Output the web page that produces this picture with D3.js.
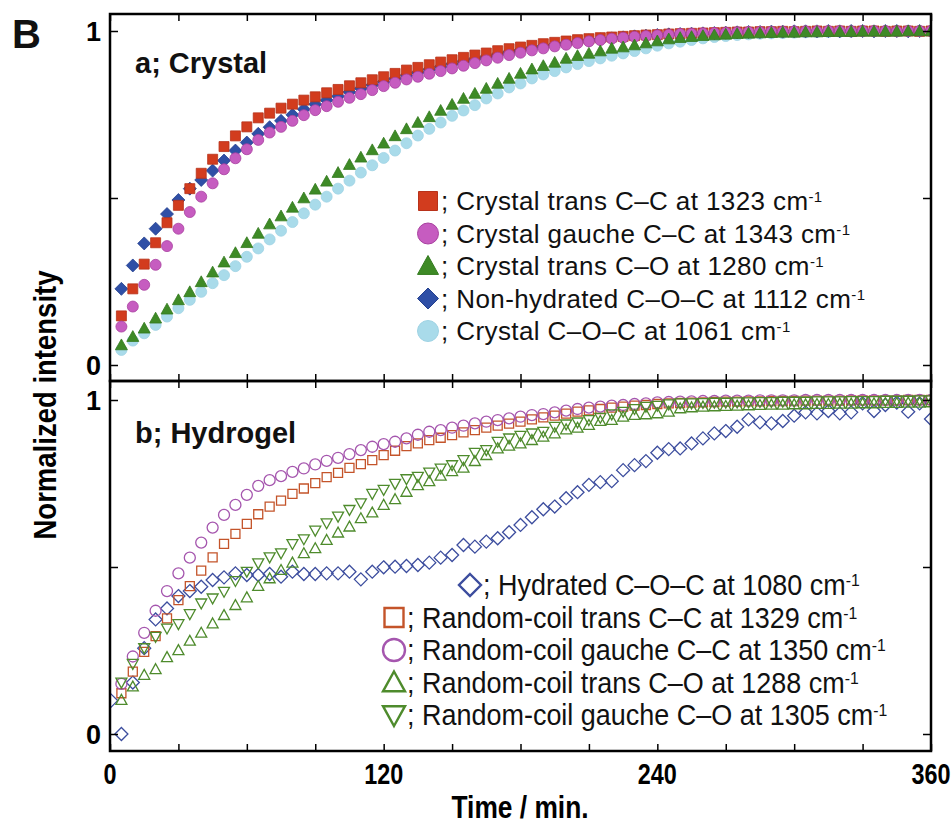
<html>
<head>
<style>
  body { margin: 0; background: #fff; }
  svg text { font-family: "Liberation Sans", Arial, sans-serif; }
</style>
</head>
<body>
<svg id="chart" width="952" height="824"></svg>
<script src="https://d3js.org/d3.v7.min.js"></script>
<script>
// sampling times (min), every 5 min
const times = d3.range(5, 365, 5)

// a; Crystal
const crystalTransCC = [0.147,0.228,0.302,0.366,0.426,0.478,0.528,0.574,0.616,0.654,0.686,0.713,0.740,0.754,0.769,0.781,0.793,0.803,0.815,0.825,0.836,0.845,0.854,0.863,0.873,0.883,0.891,0.899,0.907,0.914,0.921,0.928,0.934,0.941,0.947,0.952,0.957,0.962,0.966,0.970,0.974,0.977,0.980,0.982,0.984,0.986,0.988,0.989,0.991,0.992,0.993,0.994,0.995,0.996,0.997,0.997,0.998,0.998,0.999,0.998,0.999,1.0,0.999,1.0,0.999,1.0,1.0,0.999,1.0,1.0,0.999,1.0]
const crystalGaucheCC = [0.115,0.175,0.240,0.300,0.356,0.408,0.458,0.504,0.544,0.586,0.619,0.646,0.674,0.696,0.713,0.731,0.748,0.763,0.775,0.788,0.800,0.811,0.823,0.835,0.845,0.855,0.863,0.872,0.880,0.888,0.896,0.904,0.912,0.920,0.928,0.935,0.942,0.948,0.954,0.959,0.964,0.969,0.973,0.977,0.980,0.983,0.985,0.987,0.989,0.991,0.992,0.993,0.994,0.995,0.996,0.997,0.997,0.998,0.998,0.999,0.999,0.999,1.0,1.0,0.999,1.0,1.0,1.0,0.999,1.0,1.0,1.0]
const crystalTransCO = [0.060,0.085,0.110,0.140,0.167,0.195,0.219,0.249,0.278,0.308,0.336,0.366,0.394,0.422,0.446,0.472,0.500,0.526,0.550,0.576,0.600,0.622,0.644,0.664,0.686,0.707,0.726,0.743,0.762,0.780,0.798,0.813,0.828,0.843,0.858,0.873,0.886,0.896,0.906,0.918,0.926,0.933,0.940,0.948,0.952,0.958,0.964,0.970,0.976,0.980,0.983,0.986,0.988,0.990,0.992,0.993,0.994,0.995,0.996,0.996,0.997,0.997,0.998,0.998,0.998,0.999,0.999,0.999,0.999,1.0,1.0,1.0]
const nonHydratedCOC = [0.228,0.298,0.364,0.408,0.452,0.494,0.528,0.554,0.582,0.612,0.642,0.666,0.692,0.712,0.731,0.749,0.766,0.781,0.793,0.805,0.817,0.828,0.838,0.848,0.857,0.867,0.876,0.885,0.893,0.901,0.909,0.916,0.923,0.930,0.937,0.943,0.949,0.954,0.959,0.964,0.968,0.972,0.975,0.978,0.981,0.984,0.986,0.988,0.990,0.991,0.992,0.993,0.994,0.995,0.996,0.997,0.997,0.998,0.998,0.999,0.999,0.999,1.0,0.999,1.0,1.0,0.999,1.0,1.0,0.999,1.0,1.0]
const crystalCOC = [0.045,0.073,0.095,0.120,0.145,0.170,0.195,0.219,0.245,0.269,0.296,0.324,0.349,0.376,0.402,0.428,0.454,0.480,0.504,0.528,0.552,0.576,0.598,0.620,0.642,0.664,0.687,0.707,0.726,0.746,0.762,0.778,0.798,0.813,0.831,0.843,0.858,0.870,0.880,0.891,0.901,0.910,0.918,0.926,0.933,0.940,0.948,0.956,0.963,0.968,0.973,0.978,0.982,0.985,0.988,0.990,0.992,0.993,0.994,0.995,0.996,0.997,0.997,0.998,0.998,0.999,0.999,0.999,1.0,1.0,1.0,1.0]

// b; Hydrogel
const hydratedTimes = [0.5].concat(times)
const hydratedCOC = [0.100,0.0,0.154,0.257,0.343,0.376,0.413,0.428,0.441,0.461,0.469,0.481,0.476,0.476,0.479,0.471,0.486,0.479,0.479,0.481,0.481,0.486,0.463,0.486,0.499,0.501,0.503,0.506,0.513,0.528,0.536,0.566,0.561,0.576,0.586,0.604,0.626,0.649,0.673,0.681,0.706,0.724,0.746,0.754,0.757,0.790,0.805,0.817,0.842,0.853,0.855,0.870,0.885,0.900,0.907,0.920,0.942,0.933,0.930,0.937,0.953,0.963,0.960,0.967,0.960,0.963,0.990,0.967,0.985,0.992,0.965,0.990,0.943]
const rcTransCC = [0.122,0.187,0.246,0.293,0.346,0.401,0.443,0.489,0.529,0.569,0.599,0.629,0.658,0.681,0.699,0.719,0.735,0.751,0.769,0.782,0.797,0.808,0.820,0.835,0.848,0.862,0.870,0.880,0.887,0.895,0.903,0.910,0.917,0.923,0.929,0.935,0.942,0.948,0.953,0.959,0.965,0.969,0.973,0.977,0.980,0.983,0.985,0.988,0.990,0.991,0.992,0.993,0.994,0.995,0.995,0.996,0.996,0.997,0.997,0.997,0.998,0.998,0.998,0.998,0.999,0.999,0.999,0.999,0.999,1.0,1.0,1.0]
const rcGaucheCC = [0.150,0.232,0.303,0.369,0.428,0.481,0.528,0.573,0.618,0.656,0.686,0.716,0.743,0.760,0.772,0.785,0.795,0.807,0.818,0.827,0.838,0.850,0.860,0.868,0.875,0.885,0.896,0.905,0.910,0.917,0.923,0.930,0.935,0.940,0.945,0.950,0.955,0.958,0.963,0.968,0.973,0.977,0.980,0.983,0.985,0.988,0.990,0.993,0.994,0.995,0.996,0.997,0.997,0.998,0.998,0.998,0.999,0.999,0.999,0.999,1.0,1.0,1.0,1.0,1.0,1.0,1.0,1.0,1.0,1.0,1.0,1.0]
const rcTransCO = [0.102,0.142,0.177,0.194,0.230,0.251,0.279,0.303,0.331,0.356,0.386,0.409,0.443,0.466,0.491,0.513,0.541,0.556,0.581,0.603,0.621,0.646,0.663,0.686,0.703,0.725,0.745,0.757,0.773,0.787,0.797,0.817,0.835,0.855,0.863,0.870,0.880,0.890,0.900,0.912,0.917,0.925,0.937,0.940,0.950,0.955,0.957,0.960,0.965,0.975,0.978,0.980,0.981,0.982,0.983,0.984,0.985,0.986,0.986,0.987,0.987,0.988,0.988,0.989,0.989,0.990,0.990,0.991,0.991,0.992,0.992,0.993]
const rcGaucheCO = [0.154,0.210,0.257,0.291,0.316,0.329,0.359,0.391,0.406,0.426,0.458,0.486,0.511,0.529,0.541,0.569,0.583,0.609,0.631,0.651,0.671,0.691,0.719,0.731,0.749,0.763,0.770,0.783,0.795,0.805,0.820,0.842,0.850,0.875,0.885,0.893,0.900,0.905,0.920,0.927,0.933,0.940,0.947,0.957,0.965,0.973,0.980,0.983,0.987,0.990,0.990,0.991,0.992,0.992,0.993,0.993,0.994,0.994,0.995,0.995,0.995,0.996,0.996,0.996,0.997,0.997,0.997,0.998,0.998,0.998,0.999,0.999]

const xTicks = [0, 120, 240, 360]
const yTicks = [0, 1]

// series tables (drawing order)
const crystalSeries = [
  { label: "; Crystal C\u2013O\u2013C at 1061 cm", t: times, v: crystalCOC, shape: "circle", size: 11, fill: "#a9dbea", stroke: "#9fd3e4", row: 4 },
  { label: "; Non-hydrated C\u2013O\u2013C at 1112 cm", t: times, v: nonHydratedCOC, shape: "diamond", size: 13, fill: "#2f4fa6", stroke: "#24408e", row: 3 },
  { label: "; Crystal trans C\u2013C at 1323 cm", t: times, v: crystalTransCC, shape: "square", size: 10, fill: "#d23c1e", stroke: "#b8321a", row: 0 },
  { label: "; Crystal gauche C\u2013C at 1343 cm", t: times, v: crystalGaucheCC, shape: "circle", size: 11, fill: "#c65cc0", stroke: "#a8409f", row: 1 },
  { label: "; Crystal trans C\u2013O at 1280 cm", t: times, v: crystalTransCO, shape: "triUp", size: 12, fill: "#3e8a26", stroke: "#337a1e", row: 2 }
]
const hydrogelSeries = [
  { label: "; Hydrated C\u2013O\u2013C at 1080 cm", t: hydratedTimes, v: hydratedCOC, shape: "diamond", size: 13, stroke: "#3c4d9e", row: 0 },
  { label: "; Random-coil trans C\u2013C at 1329 cm", t: times, v: rcTransCC, shape: "square", size: 9, stroke: "#c4542a", row: 1 },
  { label: "; Random-coil gauche C\u2013C at 1350 cm", t: times, v: rcGaucheCC, shape: "circle", size: 11, stroke: "#a556ae", row: 2 },
  { label: "; Random-coil trans C\u2013O at 1288 cm", t: times, v: rcTransCO, shape: "triUp", size: 11, stroke: "#4e8b2c", row: 3 },
  { label: "; Random-coil gauche C\u2013O at 1305 cm", t: times, v: rcGaucheCO, shape: "triDown", size: 11, stroke: "#4e8b2c", row: 4 }
]

function shapePath(shape, s) {
  let h = s / 2
  if (shape == "square") return `M${-h},${-h}h${s}v${s}h${-s}Z`
  if (shape == "circle") return `M${-h},0a${h},${h} 0 1,0 ${s},0a${h},${h} 0 1,0 ${-s},0Z`
  if (shape == "diamond") return `M0,${-h}L${h},0L0,${h}L${-h},0Z`
  if (shape == "triUp") return `M0,${-s * 0.5}L${h},${s * 0.4}L${-h},${s * 0.4}Z`
  if (shape == "triDown") return `M0,${s * 0.5}L${h},${-s * 0.4}L${-h},${-s * 0.4}Z`
}

// condensed text: draw at (x,y) squeezed horizontally
function narrow(sel, px, py, sx) {
  return sel.attr("x", 0).attr("y", 0).attr("transform", `translate(${px},${py}) scale(${sx},1)`)
}

const svg = d3.select("#chart")
const left = 110, right = 931
const x = d3.scaleLinear().domain([0, 360]).range([left, right])

const panels = [
  { id: "a", top: 14, bottom: 381, y: d3.scaleLinear().domain([0, 1]).range([365, 31]), title: "a; Crystal", series: crystalSeries, filled: true },
  { id: "b", top: 381, bottom: 751, y: d3.scaleLinear().domain([0, 1]).range([734, 400]), title: "b; Hydrogel", series: hydrogelSeries, filled: false }
]

panels.forEach(p => {
  svg.append("clipPath").attr("id", "clip-" + p.id)
    .append("rect").attr("x", left).attr("y", p.top).attr("width", right - left).attr("height", p.bottom - p.top)

  let g = svg.append("g").attr("clip-path", `url(#clip-${p.id})`)
  p.series.forEach(s => {
    g.append("g").selectAll("path")
      .data(s.v.map((v, i) => [s.t[i], v]))
      .join("path")
      .attr("d", shapePath(s.shape, s.size))
      .attr("transform", d => `translate(${x(d[0])},${p.y(d[1])})`)
      .attr("fill", p.filled ? s.fill : "none")
      .attr("stroke", s.stroke)
      .attr("stroke-width", p.filled ? 0.8 : 1.3)
  })

  // ticks, pointing inwards on all four sides
  let minor = d3.range(0, 361, 30)
  svg.append("g").attr("transform", `translate(0,${p.bottom})`)
    .call(d3.axisBottom(x).tickValues(minor).tickSize(-7).tickFormat(""))
  svg.append("g").attr("transform", `translate(0,${p.top})`)
    .call(d3.axisTop(x).tickValues(minor).tickSize(-7).tickFormat(""))
  svg.append("g").attr("transform", `translate(${left},0)`)
    .call(d3.axisLeft(p.y).tickValues([0, 0.5, 1]).tickSize(-8).tickFormat(""))
  svg.append("g").attr("transform", `translate(${right},0)`)
    .call(d3.axisRight(p.y).tickValues([0, 0.5, 1]).tickSize(-8).tickFormat(""))

  // y tick labels
  svg.append("g").selectAll("text").data(yTicks).join("text")
    .attr("x", 101).attr("y", d => p.y(d)).attr("dy", "0.36em")
    .attr("text-anchor", "end").attr("font-size", 27).attr("font-weight", "bold")
    .text(d => d)

  svg.append("text").attr("x", 135).attr("y", p.id == "a" ? 73 : 443)
    .attr("font-size", 29).attr("font-weight", "bold").attr("fill", "#111")
    .text(p.title)

  svg.append("rect").attr("x", left).attr("y", p.top)
    .attr("width", right - left).attr("height", p.bottom - p.top)
    .attr("fill", "none").attr("stroke", "#000").attr("stroke-width", 2.5)
})
svg.selectAll(".domain").remove()
svg.selectAll(".tick line").attr("stroke", "#000").attr("stroke-width", 1.5)

// legend, panel a
const legA = svg.append("g")
crystalSeries.forEach(s => {
  let cy = 201 + s.row * 32.5
  legA.append("path").attr("d", shapePath(s.shape, s.shape == "square" ? 19 : 21))
    .attr("transform", `translate(428,${cy})`).attr("fill", s.fill).attr("stroke", s.stroke)
  let t = legA.append("text").attr("x", 441).attr("y", cy).attr("dy", "0.36em")
    .attr("font-size", 26).attr("letter-spacing", 0.4).attr("fill", "#111")
  t.append("tspan").text(s.label)
  t.append("tspan").attr("dy", "-0.55em").attr("font-size", 15).text("-1")
})

// legend, panel b (condensed face)
const legB = svg.append("g")
hydrogelSeries.forEach(s => {
  let cy = 585 + s.row * 32.5
  let mx = s.row == 0 ? 470 : 394
  legB.append("path").attr("d", shapePath(s.shape, s.shape == "square" ? 19 : 22))
    .attr("transform", `translate(${mx},${cy})`).attr("fill", "none").attr("stroke", s.stroke).attr("stroke-width", 2.4)
  let t = legB.append("text").attr("dy", "0.36em").attr("font-size", 29).attr("fill", "#111")
  narrow(t, mx + 13, cy, 0.93)
  t.append("tspan").text(s.label)
  t.append("tspan").attr("dy", "-0.55em").attr("font-size", 17).text("-1")
})

// x tick labels and axis titles
svg.append("g").selectAll("text").data(xTicks).join("text")
  .attr("text-anchor", "middle").attr("font-size", 30).attr("font-weight", "bold")
  .each(function (d) { narrow(d3.select(this), x(d), 784, 0.78) })
  .text(d => d)

narrow(svg.append("text"), 520, 818, 0.85)
  .attr("text-anchor", "middle").attr("font-size", 31).attr("font-weight", "bold")
  .text("Time / min.")

svg.append("text")
  .attr("transform", "translate(56,405) rotate(-90) scale(0.86,1)")
  .attr("text-anchor", "middle").attr("font-size", 32).attr("font-weight", "bold")
  .text("Normalized intensity")

svg.append("text").attr("x", 12).attr("y", 48)
  .attr("font-size", 40).attr("font-weight", "bold").attr("fill", "#111")
  .text("B")
</script>
</body>
</html>
